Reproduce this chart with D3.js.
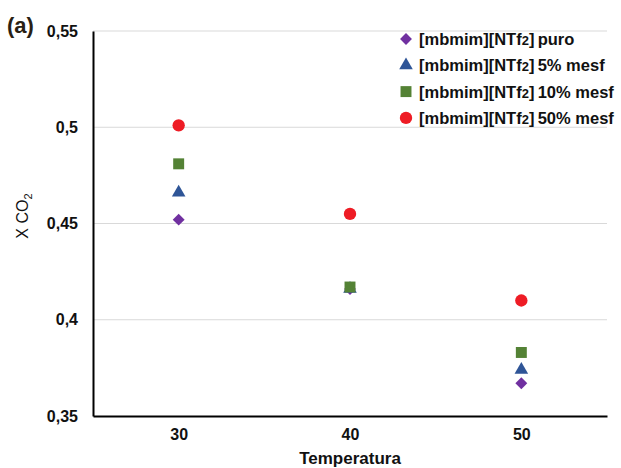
<!DOCTYPE html>
<html>
<head>
<meta charset="utf-8">
<script src="https://cdn.jsdelivr.net/npm/d3@7"></script>
<style>
  body { margin: 0; background: #fff; }
  text { font-family: "Liberation Sans", Arial, sans-serif; }
</style>
</head>
<body>
<div id="chart"></div>
<script>
// temperatures and CO2 mole fractions
const temps = [30, 40, 50]
const puro = [0.452, 0.416, 0.367]
const mesf5 = [0.466, 0.416, 0.374]
const mesf10 = [0.481, 0.417, 0.383]
const mesf50 = [0.501, 0.455, 0.410]
const yTicks = [0.35, 0.4, 0.45, 0.5, 0.55]
const seriesNames = ["puro", "5% mesf", "10% mesf", "50% mesf"]

const width = 621, height = 468
const margin = {top: 31, right: 14, bottom: 52, left: 93}

const svg = d3.select("#chart").append("svg")
    .attr("width", width)
    .attr("height", height)

const x = d3.scaleLinear().domain([25, 55]).range([margin.left, width - margin.right])
const y = d3.scaleLinear().domain([0.35, 0.55]).range([height - margin.bottom, margin.top])

// horizontal gridlines
svg.append("g")
    .selectAll("line")
    .data(yTicks.slice(1))
    .enter().append("line")
    .attr("x1", margin.left)
    .attr("x2", width - margin.right)
    .attr("y1", d => y(d))
    .attr("y2", d => y(d))
    .attr("stroke", "#d9d9d9")
    .attr("stroke-width", 1)

// y axis
const yAxis = svg.append("g")
    .attr("transform", `translate(${margin.left},0)`)
    .call(d3.axisLeft(y).tickValues(yTicks).tickSize(0).tickPadding(15)
        .tickFormat(d => String(+d.toFixed(2)).replace(".", ",")))
yAxis.select(".domain").attr("stroke", "#000").attr("stroke-width", 2)
yAxis.selectAll("text")
    .attr("font-size", 16)
    .attr("font-weight", "bold")
    .attr("fill", "#111")

// x axis
const xAxis = svg.append("g")
    .attr("transform", `translate(0,${height - margin.bottom})`)
    .call(d3.axisBottom(x).tickValues(temps).tickSize(0).tickPadding(13))
xAxis.select(".domain").attr("stroke", "#000").attr("stroke-width", 2)
xAxis.selectAll("text")
    .attr("font-size", 16)
    .attr("font-weight", "bold")
    .attr("fill", "#111")

// axis titles
svg.append("text")
    .attr("x", x(40))
    .attr("y", 464)
    .attr("text-anchor", "middle")
    .attr("font-size", 17)
    .attr("font-weight", "bold")
    .attr("fill", "#111")
    .text("Temperatura")

const yTitle = svg.append("text")
    .attr("transform", "translate(28,216) rotate(-90)")
    .attr("text-anchor", "middle")
    .attr("font-size", 16)
    .attr("fill", "#111")
yTitle.append("tspan").text("X CO")
yTitle.append("tspan").attr("font-size", 11).attr("dy", 4).text("2")

// panel letter
svg.append("text")
    .attr("x", 7)
    .attr("y", 33)
    .attr("font-size", 22)
    .attr("font-weight", "bold")
    .attr("fill", "#2a1f14")
    .text("(a)")

// series
const series = [
    {values: puro, color: "#7030a0", symbol: d3.symbolDiamond2, size: 90},
    {values: mesf5, color: "#2f5597", symbol: d3.symbolTriangle, size: 80},
    {values: mesf10, color: "#548235", symbol: d3.symbolSquare, size: 120},
    {values: mesf50, color: "#ee1c25", symbol: d3.symbolCircle, size: 120}
]

series.forEach(s => {
    svg.append("g")
        .selectAll("path")
        .data(s.values)
        .enter().append("path")
        .attr("transform", (d, i) => `translate(${x(temps[i])},${y(d)})`)
        .attr("d", d3.symbol().type(s.symbol).size(s.size))
        .attr("fill", s.color)
})

// legend
const legend = svg.append("g")
const rows = legend.selectAll("g")
    .data(series)
    .enter().append("g")
    .attr("transform", (d, i) => `translate(406,${39 + i * 26.3})`)

rows.append("path")
    .attr("d", d => d3.symbol().type(d.symbol).size(d.size)())
    .attr("fill", d => d.color)

const labels = rows.append("text")
    .attr("x", 13)
    .attr("y", 6)
    .attr("font-size", 16.5)
    .attr("font-weight", "bold")
    .attr("fill", "#111")
labels.append("tspan").text("[mbmim][NTf")
labels.append("tspan").attr("font-size", 13).text("2")
labels.append("tspan").text((d, i) => "]\u2009" + seriesNames[i])
</script>
</body>
</html>
